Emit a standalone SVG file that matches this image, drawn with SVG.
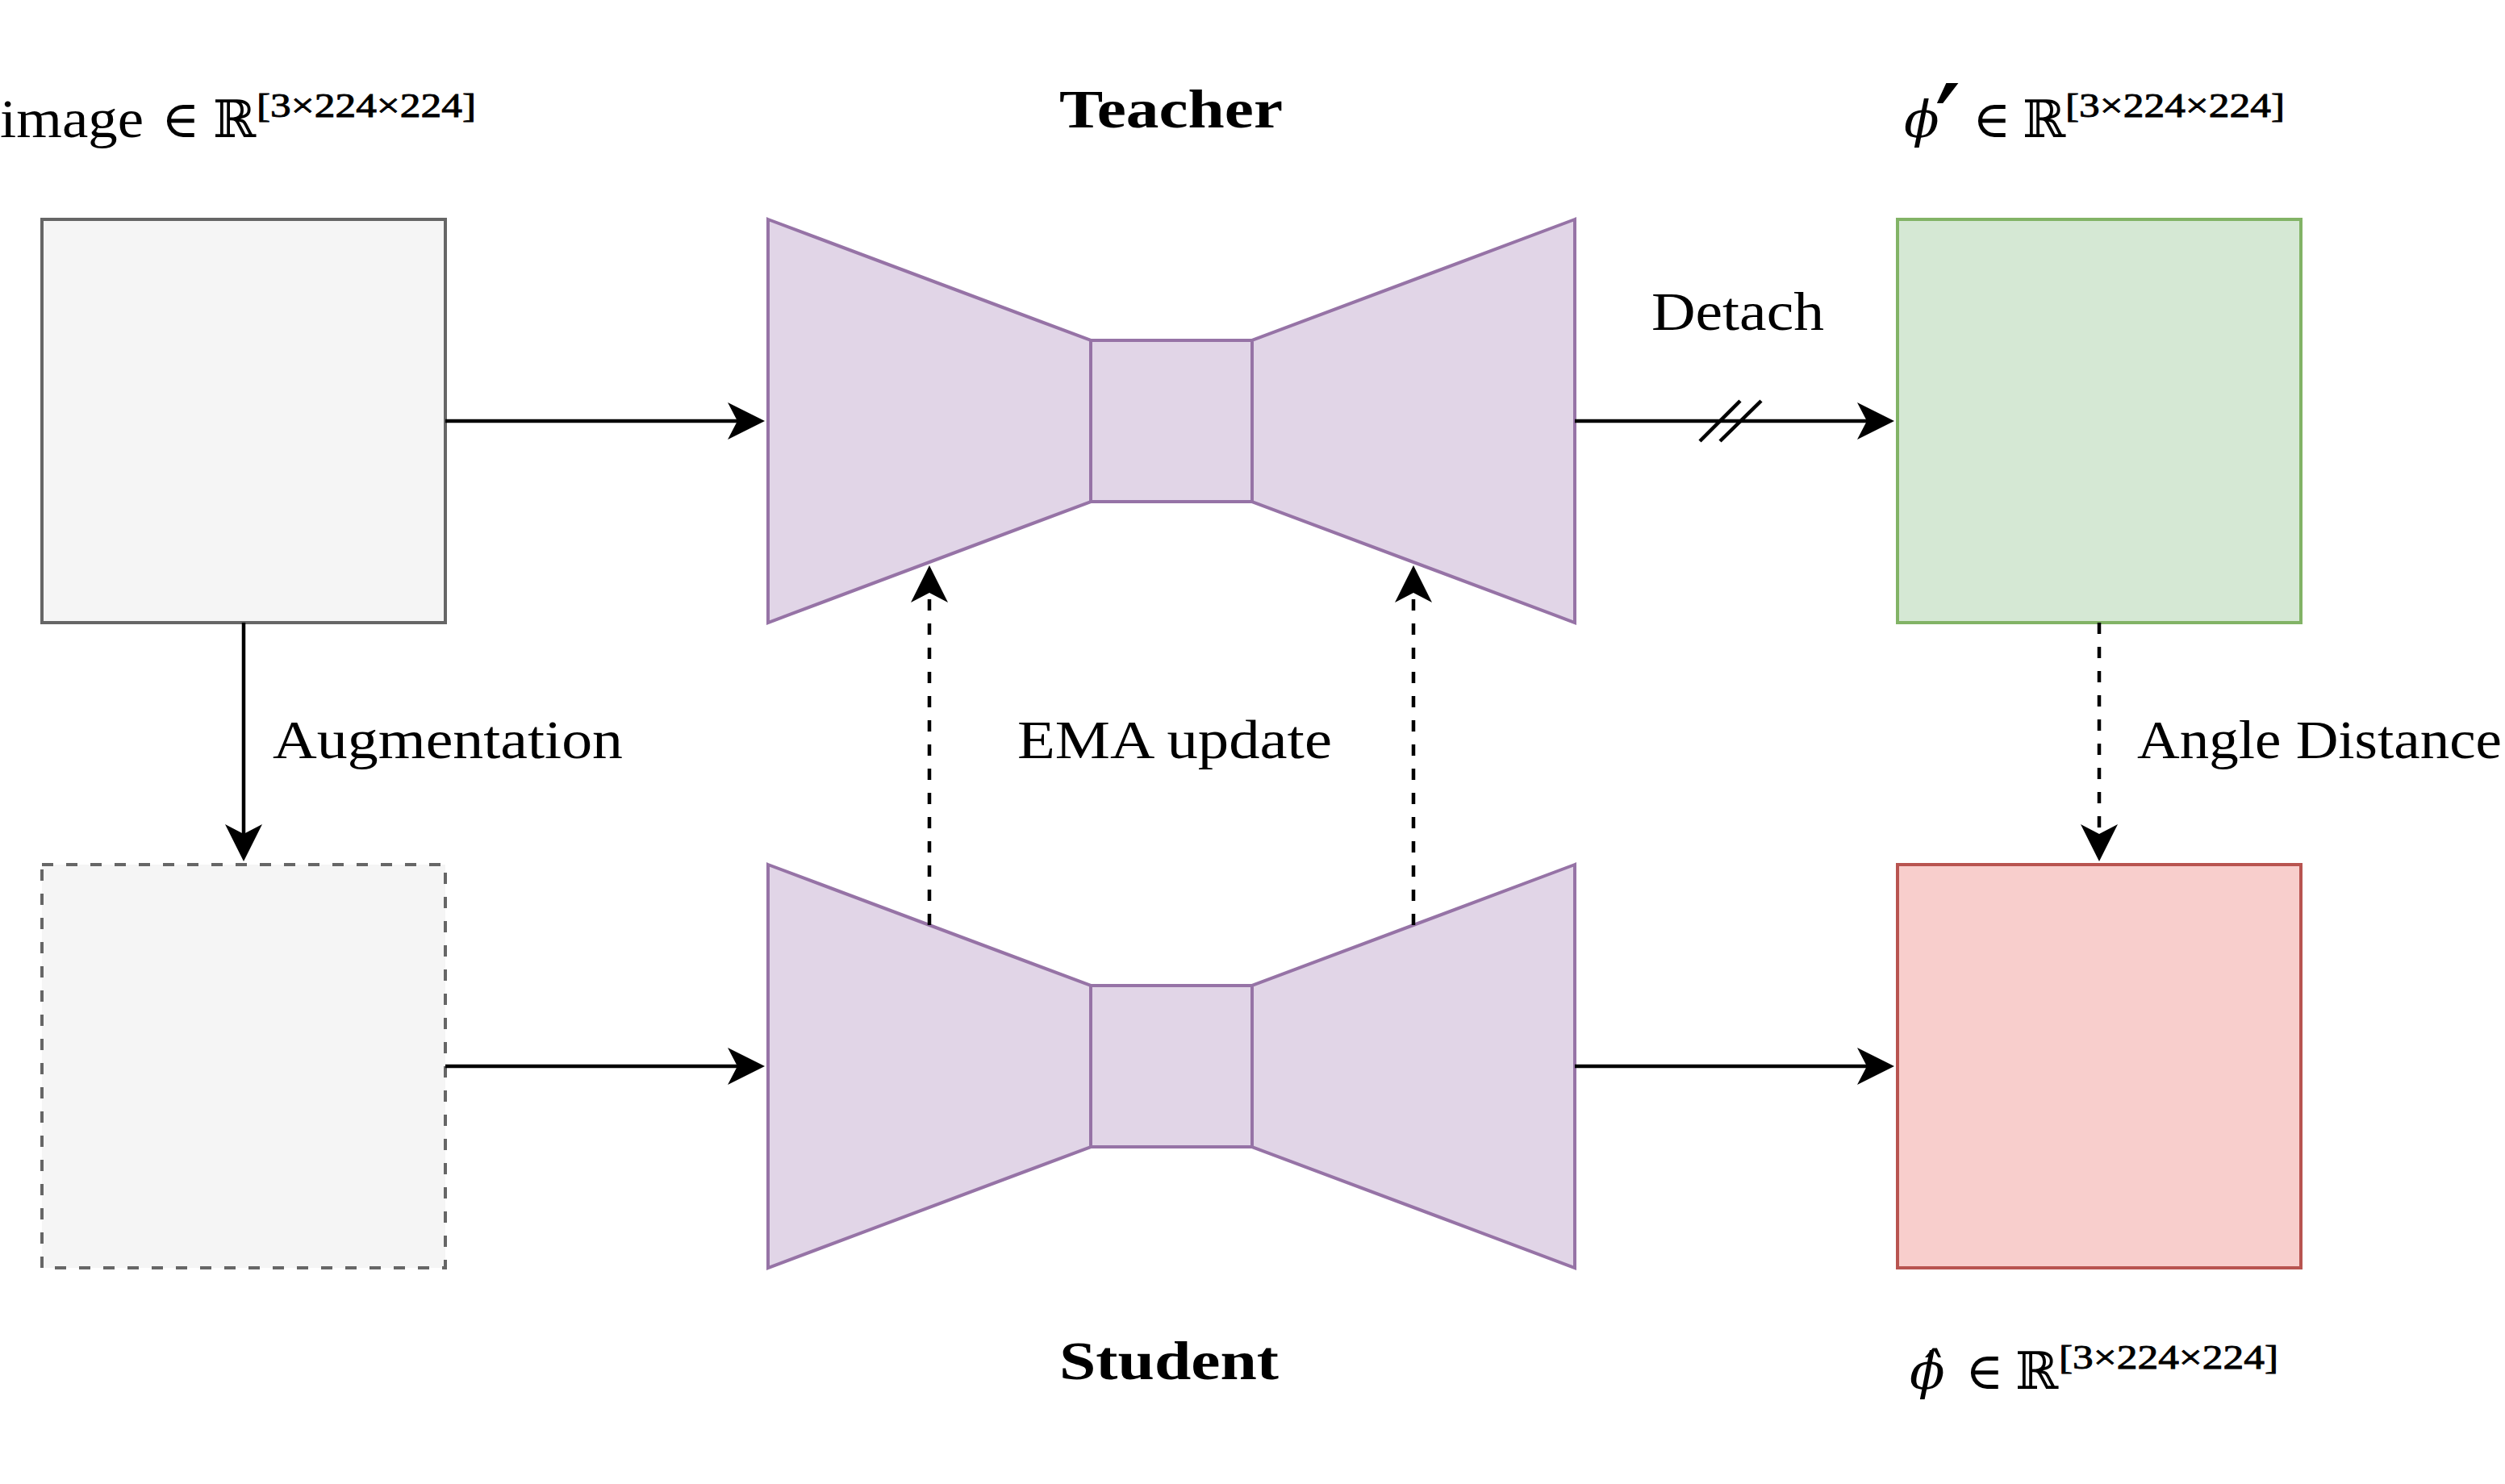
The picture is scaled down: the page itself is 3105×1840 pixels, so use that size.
<svg xmlns="http://www.w3.org/2000/svg" width="3105" height="1840" viewBox="0 0 3105 1840">
<defs>
<style>
.txt{font-family:"Liberation Serif","DejaVu Serif",serif;font-size:68px;fill:#000}
.bold{font-weight:bold}
.sup{font-family:"Liberation Serif","DejaVu Serif",serif;font-size:43px;fill:#000;stroke:#000;stroke-width:0.9}
.math{font-family:"DejaVu Serif","Liberation Serif",serif;font-size:64px;fill:#000}
.it{font-style:italic}
.grey{fill:#f5f5f5;stroke:#666666;stroke-width:4}
.purple{fill:#e1d5e7;stroke:#9673a6;stroke-width:4;stroke-linejoin:miter}
.green{fill:#d5e8d4;stroke:#82b366;stroke-width:4}
.red{fill:#f8cecc;stroke:#b85450;stroke-width:4}
.edge{fill:none;stroke:#000;stroke-width:4.5}
.dash{stroke-dasharray:14 16}
</style>
<marker id="arr" markerUnits="userSpaceOnUse" viewBox="0 0 46 46" markerWidth="46" markerHeight="46" refX="26" refY="23" orient="auto">
<path d="M46,23 L0,0 L12,23 L0,46 Z" fill="#000"/>
</marker>
</defs>
<rect width="3105" height="1840" fill="#ffffff"/>

<g id="image">
<rect class="grey" x="52" y="272" width="500" height="500"/>
</g>
<g id="augmented">
<rect class="grey dash" x="52" y="1072" width="500" height="500"/>
</g>
<g id="teacher">
<polygon class="purple" points="952,272 1352,422 1352,622 952,772"/>
<rect class="purple" x="1352" y="422" width="200" height="200"/>
<polygon class="purple" points="1952,272 1552,422 1552,622 1952,772"/>
</g>
<g id="student">
<polygon class="purple" points="952,1072 1352,1222 1352,1422 952,1572"/>
<rect class="purple" x="1352" y="1222" width="200" height="200"/>
<polygon class="purple" points="1952,1072 1552,1222 1552,1422 1952,1572"/>
</g>
<g id="phi-prime">
<rect class="green" x="2352" y="272" width="500" height="500"/>
</g>
<g id="phi-hat">
<rect class="red" x="2352" y="1072" width="500" height="500"/>
</g>

<g id="connectors">
<path class="edge" d="M552,522 H928" marker-end="url(#arr)"/>
<path class="edge" d="M552,1322 H928" marker-end="url(#arr)"/>
<path class="edge" d="M1952,522 H2328" marker-end="url(#arr)"/>
<path class="edge" d="M2107,547 L2157,497 M2132,547 L2183,497"/>
<path class="edge" d="M1952,1322 H2328" marker-end="url(#arr)"/>
<path class="edge" d="M302,772 V1048" marker-end="url(#arr)"/>
<path class="edge dash" d="M1152,1147 V721" marker-end="url(#arr)"/>
<path class="edge dash" d="M1752,1147 V721" marker-end="url(#arr)"/>
<path class="edge dash" d="M2602,772 V1048" marker-end="url(#arr)"/>
</g>

<g id="labels">
<text class="txt bold" x="1313" y="158" textLength="277" lengthAdjust="spacingAndGlyphs">Teacher</text>
<text class="txt bold" x="1313" y="1710" textLength="272" lengthAdjust="spacingAndGlyphs">Student</text>
<text class="txt" x="2047" y="409" textLength="214" lengthAdjust="spacingAndGlyphs">Detach</text>
<text class="txt" x="338" y="940" textLength="434" lengthAdjust="spacingAndGlyphs">Augmentation</text>
<text class="txt" x="1261" y="940" textLength="390" lengthAdjust="spacingAndGlyphs">EMA update</text>
<text class="txt" x="2649" y="940" textLength="452" lengthAdjust="spacingAndGlyphs">Angle Distance</text>

<text class="txt" x="0" y="170" textLength="178" lengthAdjust="spacingAndGlyphs">image</text>
<text class="math" y="170"><tspan x="200">∈</tspan><tspan x="264">ℝ</tspan></text>
<text class="sup" x="318" y="145" textLength="272" lengthAdjust="spacingAndGlyphs">[3×224×224]</text>

<text class="math" y="170"><tspan class="it" x="2360">ϕ</tspan><tspan x="2400" y="196" font-size="125" stroke="#000" stroke-width="2">′</tspan><tspan x="2445" y="170">∈</tspan><tspan x="2507">ℝ</tspan></text>
<text class="sup" x="2560" y="145" textLength="272" lengthAdjust="spacingAndGlyphs">[3×224×224]</text>

<text class="math" y="1722"><tspan class="it" x="2367">ϕ̂</tspan><tspan x="2436">∈</tspan><tspan x="2498">ℝ</tspan></text>
<text class="sup" x="2552" y="1697" textLength="272" lengthAdjust="spacingAndGlyphs">[3×224×224]</text>
</g>
</svg>
